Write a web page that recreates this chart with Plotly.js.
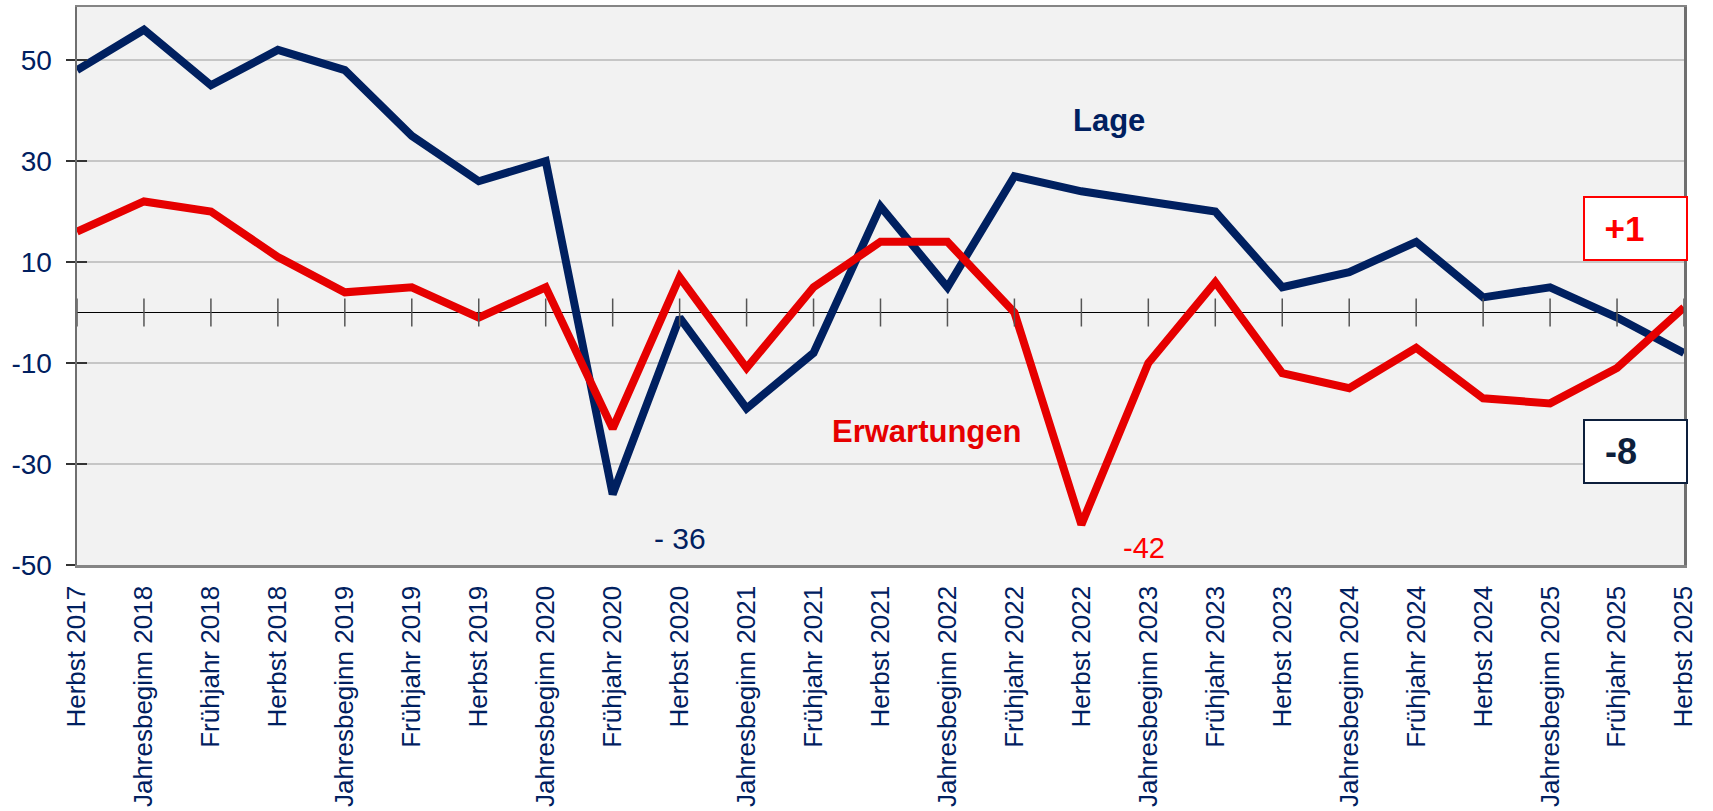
<!DOCTYPE html>
<html>
<head>
<meta charset="utf-8">
<script src="https://cdn.plot.ly/plotly-3.0.1.min.js"></script>
<style>
  html, body { margin: 0; padding: 0; background: #fff; }
  #chart { width: 1713px; height: 811px; }
</style>
</head>
<body>
<div id="chart"></div>
<script>
// survey rounds
var rounds = [
  "Herbst 2017", "Jahresbeginn 2018", "Frühjahr 2018", "Herbst 2018",
  "Jahresbeginn 2019", "Frühjahr 2019", "Herbst 2019", "Jahresbeginn 2020",
  "Frühjahr 2020", "Herbst 2020", "Jahresbeginn 2021", "Frühjahr 2021",
  "Herbst 2021", "Jahresbeginn 2022", "Frühjahr 2022", "Herbst 2022",
  "Jahresbeginn 2023", "Frühjahr 2023", "Herbst 2023", "Jahresbeginn 2024",
  "Frühjahr 2024", "Herbst 2024", "Jahresbeginn 2025", "Frühjahr 2025",
  "Herbst 2025"
];

// saldo values
var lage = [48, 56, 45, 52, 48, 35, 26, 30, -36, -1, -19, -8, 21, 5, 27, 24, 22, 20, 5, 8, 14, 3, 5, -1, -8];
var erwartungen = [16, 22, 20, 11, 4, 5, -1, 5, -23, 7, -11, 5, 14, 14, 0, -42, -10, 6, -12, -15, -7, -17, -18, -11, 1];

var yTicks = [-50, -30, -10, 10, 30, 50];
var yTickText = yTicks.map(function (v) { return String(v); });

var navy = "#002060";
var red = "#e60000";
var font = "Liberation Sans Narrow, Arial Narrow, Liberation Sans, Arial, sans-serif";

var traces = [
  {
    // small tick marks on the zero line
    x: rounds,
    y: rounds.map(function () { return 0; }),
    yaxis: "y2",
    mode: "markers",
    marker: {symbol: "line-ns", size: 20, line: {color: "#555555", width: 1.5}},
    hoverinfo: "skip"
  },
  {
    name: "Lage",
    x: rounds,
    y: lage,
    mode: "lines",
    line: {color: navy, width: 8}
  },
  {
    name: "Erwartungen",
    x: rounds,
    y: erwartungen,
    mode: "lines",
    line: {color: red, width: 8}
  }
];

var layout = {
  width: 1713,
  height: 811,
  margin: {l: 77, r: 29, t: 7, b: 246},
  paper_bgcolor: "#ffffff",
  plot_bgcolor: "#f2f2f2",
  showlegend: false,
  hovermode: false,
  font: {family: font, color: navy},
  xaxis: {
    type: "category",
    range: [0, 24],
    showgrid: false,
    zeroline: false,
    showline: true,
    mirror: true,
    linecolor: "#858585",
    linewidth: 2.5,
    ticks: "",
    tickangle: -90,
    ticklabelstandoff: 8,
    tickfont: {family: font, size: 26, color: navy}
  },
  yaxis: {
    range: [-50, 60.5],
    tickvals: yTicks,
    ticktext: yTickText,
    showgrid: true,
    gridcolor: "#c6c6c6",
    gridwidth: 1.5,
    zeroline: true,
    zerolinecolor: "#000000",
    zerolinewidth: 1.5,
    showline: true,
    mirror: true,
    linecolor: "#6f6f6f",
    linewidth: 2.5,
    ticks: "outside",
    ticklen: 9,
    tickwidth: 1.5,
    tickcolor: "#333333",
    ticklabelstandoff: 8,
    tickfont: {family: font, size: 28, color: navy}
  },
  yaxis2: {
    overlaying: "y",
    range: [-50, 60.5],
    tickvals: yTicks,
    showgrid: false,
    zeroline: false,
    showticklabels: false,
    ticks: "inside",
    ticklen: 10,
    tickwidth: 1.5,
    tickcolor: "#333333"
  },
  annotations: [
    {x: 15.41, y: 38, xref: "x", yref: "y", text: "<b>Lage</b>", showarrow: false,
     font: {family: font, size: 31, color: navy}},
    {x: 12.68, y: -23.6, xref: "x", yref: "y", text: "<b>Erwartungen</b>", showarrow: false,
     font: {family: font, size: 31, color: red}},
    {x: 9.0, y: -44.8, xref: "x", yref: "y", text: "- 36", showarrow: false,
     font: {family: font, size: 30, color: navy}},
    {x: 15.93, y: -46.6, xref: "x", yref: "y", text: "-42", showarrow: false,
     font: {family: font, size: 29, color: "#ff0000"}},
    {x: 23.28, y: 16.55, xref: "x", yref: "y", text: "<b>&nbsp;&nbsp;+1</b>", showarrow: false,
     align: "left", width: 101, height: 61, borderpad: 0,
     bgcolor: "#ffffff", bordercolor: "#ff0000", borderwidth: 2,
     font: {family: font, size: 35, color: "#ff0000"}},
    {x: 23.28, y: -27.45, xref: "x", yref: "y", text: "<b>&nbsp;&nbsp;-8</b>", showarrow: false,
     align: "left", width: 101, height: 61, borderpad: 0,
     bgcolor: "#ffffff", bordercolor: "#0d1f3c", borderwidth: 2,
     font: {family: font, size: 36, color: "#0d1f3c"}}
  ]
};

Plotly.newPlot("chart", traces, layout, {displayModeBar: false, staticPlot: true});
</script>
</body>
</html>
